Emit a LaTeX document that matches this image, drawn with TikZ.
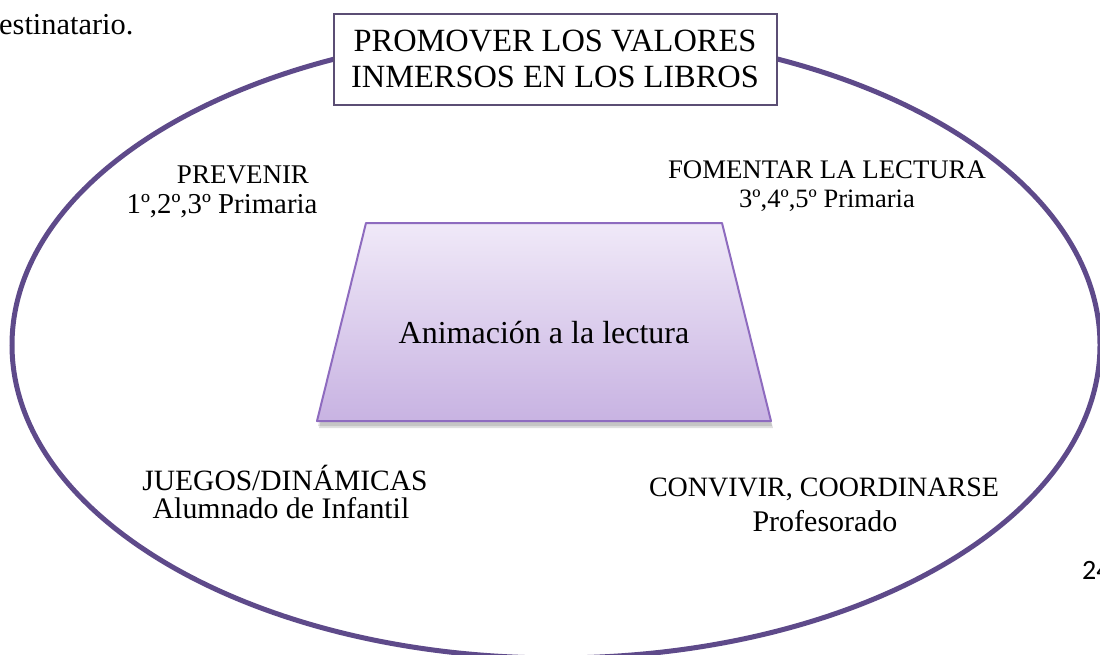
\documentclass[tikz,border=0pt]{standalone}
\usepackage{fontspec}
\setmainfont{Liberation Serif}
\newfontfamily\numfont{Carlito}
\usetikzlibrary{shadows}
\definecolor{ringpurple}{HTML}{5E4A8A}
\definecolor{boxline}{HTML}{5B4E74}
\definecolor{trapline}{HTML}{8E6BBF}
\definecolor{traptop}{HTML}{F0E9F8}
\definecolor{trapbot}{HTML}{C8B3E2}
\tikzset{
  lbl/.style={inner sep=0pt, anchor=center, text=black},
  fs/.style={font=\fontsize{#1}{#1}\selectfont},
  trapshape/.style={draw=trapline, line width=2pt, top color=traptop, bottom color=trapbot, line join=round},
}
\begin{document}
\begin{tikzpicture}[x=1pt,y=-1pt]
\useasboundingbox (0,0) rectangle (1100,654);
% outer ring
\draw[ringpurple, line width=5pt] (556,345) ellipse [x radius=544, y radius=313];
% title box
\node[draw=boxline, line width=2pt, fill=white, minimum width=443pt, minimum height=91pt,
      inner sep=0pt, align=center, font=\fontsize{32.4}{36}\selectfont] (title) at (555,59)
      {PROMOVER LOS VALORES\\INMERSOS EN LOS LIBROS};
% central trapezium
\coordinate (tl) at (366,223);
\coordinate (tr) at (722,223);
\coordinate (br) at (771,421);
\coordinate (bl) at (317,421);
\fill[black, opacity=0.12] ([shift={(1,3)}]tl) -- ([shift={(1,3)}]tr) -- ([shift={(1,5)}]br) -- ([shift={(1,5)}]bl) -- cycle;
\fill[black, opacity=0.12] ([shift={(2,5)}]tl) -- ([shift={(2,5)}]tr) -- ([shift={(2,7)}]br) -- ([shift={(2,7)}]bl) -- cycle;
\path[trapshape] (tl) -- (tr) -- (br) -- (bl) -- cycle;
\node[lbl, fs=32] (anim) at (544,333) {Animación a la lectura};
% corner labels
\node[lbl, fs=27] (prev1) at (243,175) {PREVENIR};
\node[lbl, fs=28.8] (prev2) at (222,206) {1º,2º,3º Primaria};
\node[lbl, fs=26.8] (fom1) at (827,170) {FOMENTAR LA LECTURA};
\node[lbl, fs=26.5] (fom2) at (827,201) {3º,4º,5º Primaria};
\node[lbl, fs=29.5] (jue1) at (285,478) {JUEGOS/DINÁMICAS};
\node[lbl, fs=29.8] (jue2) at (281,508) {Alumnado de Infantil};
\node[lbl, fs=28] (conv1) at (824,489) {CONVIVIR, COORDINARSE};
\node[lbl, fs=30] (conv2) at (825,521) {Profesorado};
% page fragments
\node[lbl, anchor=west, fs=30.4] (frag) at (-1,25) {estinatario.};
\node[lbl, anchor=west, font=\numfont\fontsize{28}{30}\selectfont] (pnum) at (1082,570) {24};
\end{tikzpicture}
\end{document}
